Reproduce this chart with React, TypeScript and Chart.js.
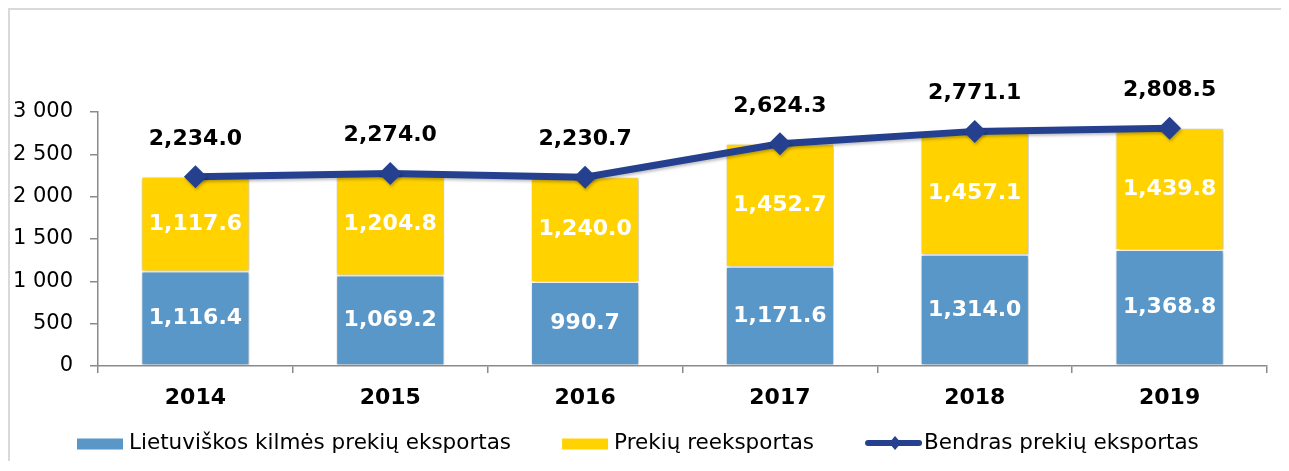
import React, { useEffect, useRef } from 'react';
import { Chart, registerables } from 'chart.js';

Chart.register(...registerables);

const categories = ['2014', '2015', '2016', '2017', '2018', '2019'];
const localExports = [1116.4, 1069.2, 990.7, 1171.6, 1314.0, 1368.8];
const reExports = [1117.6, 1204.8, 1240.0, 1452.7, 1457.1, 1439.8];
const totalExports = [2234.0, 2274.0, 2230.7, 2624.3, 2771.1, 2808.5];
const seriesNames = [
  'Lietuviškos kilmės prekių eksportas',
  'Prekių reeksportas',
  'Bendras prekių eksportas',
];
const yTicks = [0, 500, 1000, 1500, 2000, 2500, 3000];

const BLUE = '#5A97C9';
const YELLOW = '#FFD200';
const NAVY = '#24408E';
const AXIS = '#8a8a8a';
const FONT = "'DejaVu Sans', sans-serif";

const fmt = (v: number) =>
  v.toLocaleString('en-US', { minimumFractionDigits: 1, maximumFractionDigits: 1 });
const fmtTick = (v: number) => String(v).replace(/\B(?=(\d{3})+(?!\d))/g, ' ');

const shadowPlugin = {
  id: 'markShadow',
  beforeDatasetDraw(chart: any, args: any) {
    const ctx = chart.ctx;
    ctx.save();
    if (args.meta.type === 'bar') {
      ctx.shadowColor = 'rgba(0,0,0,0.30)';
      ctx.shadowBlur = 4;
      ctx.shadowOffsetX = 1;
      ctx.shadowOffsetY = 1;
    } else {
      ctx.shadowColor = 'rgba(0,0,0,0.25)';
      ctx.shadowBlur = 3;
      ctx.shadowOffsetX = 1;
      ctx.shadowOffsetY = 2;
    }
  },
  afterDatasetDraw(chart: any) {
    chart.ctx.restore();
  },
};

const labelPlugin = {
  id: 'valueLabels',
  afterDatasetsDraw(chart: any) {
    const ctx = chart.ctx;
    ctx.save();
    ctx.font = `bold 22px ${FONT}`;
    ctx.textAlign = 'center';
    ctx.textBaseline = 'middle';
    chart.data.datasets.forEach((ds: any, di: number) => {
      const meta = chart.getDatasetMeta(di);
      meta.data.forEach((el: any, i: number) => {
        const v = ds.data[i];
        if (meta.type === 'bar') {
          ctx.fillStyle = '#ffffff';
          ctx.fillText(fmt(v), el.x, (el.y + el.base) / 2);
        } else {
          ctx.fillStyle = '#000000';
          ctx.fillText(fmt(v), el.x, el.y - 38);
        }
      });
    });
    ctx.restore();
  },
};

const LEGEND_LEFT = 67;
const LEGEND_GAP = 51;

const legendPlugin = {
  id: 'customLegend',
  afterDraw(chart: any) {
    const ctx = chart.ctx;
    ctx.save();
    ctx.font = `21.5px ${FONT}`;
    ctx.textBaseline = 'middle';
    ctx.textAlign = 'left';
    const cy = chart.chartArea.bottom + 78;
    let x = LEGEND_LEFT;
    chart.data.datasets.forEach((ds: any) => {
      const w = ctx.measureText(ds.label).width;
      if (ds.type === 'line') {
        ctx.strokeStyle = ds.borderColor;
        ctx.lineWidth = 6;
        ctx.lineCap = 'round';
        ctx.beginPath();
        ctx.moveTo(x + 3, cy - 1);
        ctx.lineTo(x + 54, cy - 1);
        ctx.stroke();
        ctx.fillStyle = ds.borderColor;
        const dx = x + 30;
        ctx.beginPath();
        ctx.moveTo(dx, cy - 8);
        ctx.lineTo(dx + 6, cy - 1);
        ctx.lineTo(dx, cy + 6);
        ctx.lineTo(dx - 6, cy - 1);
        ctx.closePath();
        ctx.fill();
        ctx.fillStyle = '#000';
        ctx.fillText(ds.label, x + 59, cy - 1);
        x += 59 + w + LEGEND_GAP;
      } else {
        ctx.fillStyle = ds.backgroundColor;
        ctx.fillRect(x, cy - 5.5, 46, 11);
        ctx.fillStyle = '#000';
        ctx.fillText(ds.label, x + 52, cy - 1);
        x += 52 + w + LEGEND_GAP;
      }
    });
    ctx.restore();
  },
};

export default function App() {
  const ref = useRef<HTMLCanvasElement | null>(null);

  useEffect(() => {
    document.documentElement.style.overflow = 'hidden';
    document.body.style.overflow = 'hidden';
    if (!ref.current) return;
    Chart.defaults.font.family = FONT;
    const chart = new Chart(ref.current, {
      type: 'bar',
      data: {
        labels: categories,
        datasets: [
          {
            type: 'bar',
            label: seriesNames[0],
            data: localExports,
            backgroundColor: BLUE,
            borderColor: '#ffffff',
            borderWidth: 1,
            borderSkipped: false,
            stack: 'bars',
            order: 1,
            barPercentage: 0.555,
            categoryPercentage: 1,
          },
          {
            type: 'bar',
            label: seriesNames[1],
            data: reExports,
            backgroundColor: YELLOW,
            borderColor: '#ffffff',
            borderWidth: 1,
            borderSkipped: false,
            stack: 'bars',
            order: 1,
            barPercentage: 0.555,
            categoryPercentage: 1,
          },
          {
            type: 'line',
            label: seriesNames[2],
            data: totalExports,
            borderColor: NAVY,
            backgroundColor: NAVY,
            borderWidth: 7,
            pointStyle: 'rectRot',
            pointRadius: 11.5,
            pointBackgroundColor: NAVY,
            pointBorderWidth: 0,
            tension: 0,
            stack: 'line',
            order: 0,
          } as any,
        ],
      },
      options: {
        animation: false,
        responsive: false,
        devicePixelRatio: 1,
        layout: { padding: { top: 102, right: 22, left: 0, bottom: 0 } },
        plugins: {
          legend: { display: false },
          tooltip: { enabled: false },
        },
        scales: {
          x: {
            stacked: true,
            offset: true,
            afterFit: (s: any) => {
              s.height = 95;
            },
            grid: {
              display: true,
              drawOnChartArea: false,
              drawTicks: true,
              tickLength: 7,
              color: AXIS,
              lineWidth: 1.5,
              offset: true,
            },
            border: { display: true, color: AXIS, width: 1.5 },
            ticks: {
              color: '#000',
              padding: 12,
              font: { family: FONT, size: 22, weight: 'bold' },
              maxRotation: 0,
            },
          },
          y: {
            stacked: true,
            min: 0,
            max: 3000,
            afterFit: (s: any) => {
              s.width = 88;
            },
            afterBuildTicks: (s: any) => {
              s.ticks = yTicks.map((v) => ({ value: v }));
            },
            grid: {
              display: true,
              drawOnChartArea: false,
              drawTicks: true,
              tickLength: 8,
              color: AXIS,
              lineWidth: 1.5,
            },
            border: { display: true, color: AXIS, width: 1.5 },
            ticks: {
              color: '#000',
              padding: 17,
              font: { family: FONT, size: 21 },
              callback: (v: any) => fmtTick(Number(v)),
            },
          },
        },
      },
      plugins: [shadowPlugin, labelPlugin, legendPlugin],
    });
    return () => chart.destroy();
  }, []);

  return (
    <div
      style={{
        borderTop: '2px solid #d9d9d9',
        borderLeft: '2px solid #d9d9d9',
        borderRight: 'none',
        borderBottom: 'none',
        width: 1279,
        height: 451,
        background: '#fff',
      }}
    >
      <canvas ref={ref} width={1279} height={451} style={{ display: 'block', width: 1279, height: 451 }} />
    </div>
  );
}
